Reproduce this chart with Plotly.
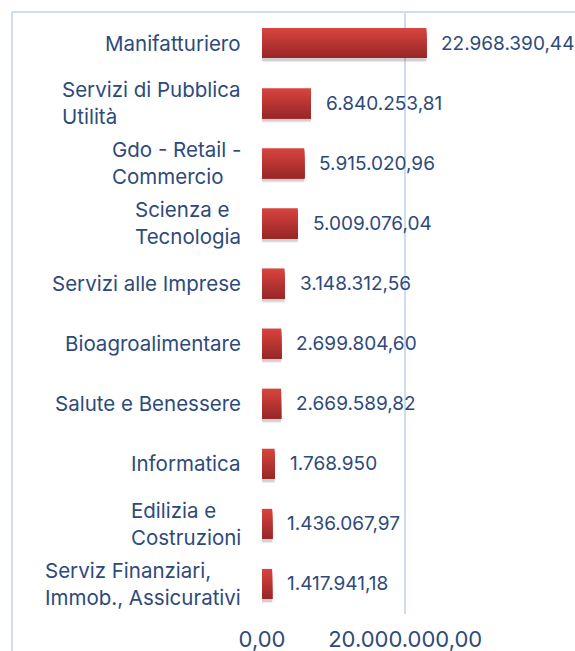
import numpy as np
import plotly.graph_objects as go

# Settori e importi
categories = [
    "Manifatturiero",
    "Servizi di Pubblica<br>Utilità",
    "Gdo - Retail -<br>Commercio",
    "Scienza e<br>Tecnologia",
    "Servizi alle Imprese",
    "Bioagroalimentare",
    "Salute e Benessere",
    "Informatica",
    "Edilizia e<br>Costruzioni",
    "Serviz Finanziari,<br>Immob., Assicurativi",
]
values = [
    22968390.44,
    6840253.81,
    5915020.96,
    5009076.04,
    3148312.56,
    2699804.60,
    2669589.82,
    1768950,
    1436067.97,
    1417941.18,
]
tick_values = [0, 20000000]
tick_labels = ["0,00", "20.000.000,00"]


def fmt_it(v):
    """Italian number format: '.' for thousands, ',' for decimals."""
    if float(v).is_integer():
        return f"{int(v):,}".replace(",", ".")
    s = f"{v:,.2f}"
    return s.replace(",", "X").replace(".", ",").replace("X", ".")


W, H = 575, 651
ML, MR, MT, MB = 262, 0, 13, 37
plot_w = W - ML - MR
plot_h = H - MT - MB
PX_PER_MILLION = 7.16

TEXT = "#2e4a7b"
GRID = "#cddcef"
FONT = "Inter"

fig = go.Figure()

# soft drop shadow under each bar
for dy, alpha in [(0.07, 0.10), (0.05, 0.14)]:
    fig.add_trace(go.Bar(
        y=categories, x=values, orientation="h",
        offset=-0.25 + dy, width=0.5,
        marker=dict(color=f"rgba(60,60,60,{alpha})", line=dict(width=0)),
        hoverinfo="skip", showlegend=False,
    ))

# vertical gradient on the bars: each band runs from its top edge down to
# the bar's bottom, so successive (darker) bands overlap without gaps
n_bands = 12
top = np.array([214, 68, 63])
bottom = np.array([154, 40, 40])
band = 0.5 / n_bands
for i in range(n_bands):
    t = i / (n_bands - 1)
    c = (top * (1 - t) + bottom * t).astype(int)
    fig.add_trace(go.Bar(
        y=categories, x=values, orientation="h",
        offset=-0.25 + i * band, width=0.5 - i * band,
        marker=dict(color=f"rgb({c[0]},{c[1]},{c[2]})", line=dict(width=0)),
        hoverinfo="skip", showlegend=False,
    ))

annotations = []
# value labels to the right of each bar
for cat, v in zip(categories, values):
    annotations.append(dict(
        x=v, y=cat, xref="x", yref="y", text=fmt_it(v),
        showarrow=False, xanchor="left", xshift=13,
        font=dict(family=FONT, size=19, color=TEXT),
    ))
# category labels: block right-aligned, lines left-aligned
for cat in categories:
    annotations.append(dict(
        x=(243 - ML) / plot_w, y=cat, xref="paper", yref="y", text=cat,
        showarrow=False, xanchor="right", align="left",
        font=dict(family=FONT, size=20.5, color=TEXT),
    ))

# chart frame (top and left edges)
x_left = (12 - ML) / plot_w
y_top = 1 + (MT - 12) / plot_h
y_bot = -(MB) / plot_h
shapes = [
    dict(type="line", xref="paper", yref="paper", x0=x_left, x1=1.0,
         y0=y_top, y1=y_top, line=dict(color=GRID, width=2)),
    dict(type="line", xref="paper", yref="paper", x0=x_left, x1=x_left,
         y0=y_top, y1=y_bot, line=dict(color=GRID, width=2)),
]

fig.update_layout(
    width=W, height=H,
    margin=dict(l=ML, r=MR, t=MT, b=MB, pad=0, autoexpand=False),
    paper_bgcolor="white", plot_bgcolor="white",
    barmode="overlay",
    showlegend=False,
    annotations=annotations,
    shapes=shapes,
    xaxis=dict(
        range=[0, plot_w / PX_PER_MILLION * 1e6],
        tickvals=tick_values, ticktext=tick_labels,
        showgrid=True, gridcolor=GRID, gridwidth=1.5,
        zeroline=False, showline=False, ticks="",
        tickfont=dict(family=FONT, size=22, color=TEXT),
        ticklabelstandoff=10, automargin=False,
    ),
    yaxis=dict(
        categoryorder="array", categoryarray=categories,
        autorange="reversed", automargin=False,
        showticklabels=False, showgrid=False, zeroline=False,
        showline=False, ticks="",
    ),
)

fig.write_html("out.html")
